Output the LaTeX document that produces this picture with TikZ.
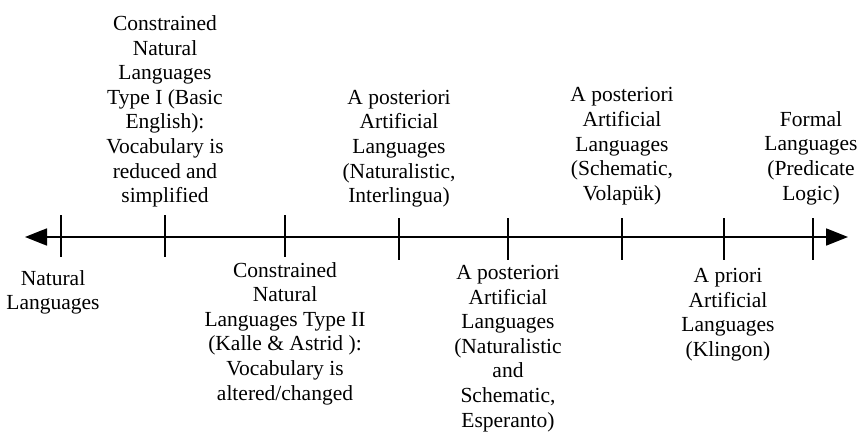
\documentclass[tikz,border=0pt]{standalone}
\usepackage{fontspec}
\setmainfont{LiberationSerif}[Extension=.ttf, UprightFont=*-Regular, BoldFont=*-Bold]
\usetikzlibrary{arrows.meta}
\tikzset{
  lbl/.style={align=center, inner sep=0pt, font=\rmfamily\fontsize{21.5}{24.6}\selectfont},
  axisline/.style={line width=1.8pt, {Triangle[length=22pt,width=17pt]}-{Triangle[length=22pt,width=17pt]}},
  tick/.style={line width=1.8pt}
}
\begin{document}
\begin{tikzpicture}[x=1pt,y=-1pt]
\useasboundingbox (0,0) rectangle (860,436);
% axis
\coordinate (L) at (25,237);
\coordinate (R) at (848,237);
\draw[axisline] (L) -- (R);
% ticks
\foreach \n/\xx/\ya/\yb in {t1/61/215/257, t2/165/215/257, t3/285/215/257, t4/399/218/260, t5/508/218/260, t6/622/218/260, t7/724/218/260, t8/813/218/260}{
  \coordinate (\n a) at (\xx,\ya);
  \coordinate (\n b) at (\xx,\yb);
  \draw[tick] (\n a) -- (\n b);
}
% top labels
\node[lbl, anchor=south] (top1) at (165,207.5) {Constrained\\Natural\\Languages\\Type I (Basic\\English):\\Vocabulary is\\reduced and\\simplified};
\node[lbl, anchor=south] (top2) at (399,207.5) {A posteriori\\Artificial\\Languages\\(Naturalistic,\\Interlingua)};
\node[lbl, anchor=south] (top3) at (622,205) {A posteriori\\Artificial\\Languages\\(Schematic,\\Volapük)};
\node[lbl, anchor=south] (top4) at (811,205) {Formal\\Languages\\(Predicate\\Logic)};
% bottom labels
\node[lbl, anchor=north] (bot1) at (53,270) {Natural\\Languages};
\node[lbl, anchor=north] (bot2) at (285,262) {Constrained\\Natural\\Languages Type II\\(Kalle \& Astrid ):\\Vocabulary is\\altered/changed};
\node[lbl, anchor=north] (bot3) at (508,265) {A posteriori\\Artificial\\Languages\\(Naturalistic\\and\\Schematic,\\Esperanto)};
\node[lbl, anchor=north] (bot4) at (728,268) {A priori\\Artificial\\Languages\\(Klingon)};
\end{tikzpicture}
\end{document}
